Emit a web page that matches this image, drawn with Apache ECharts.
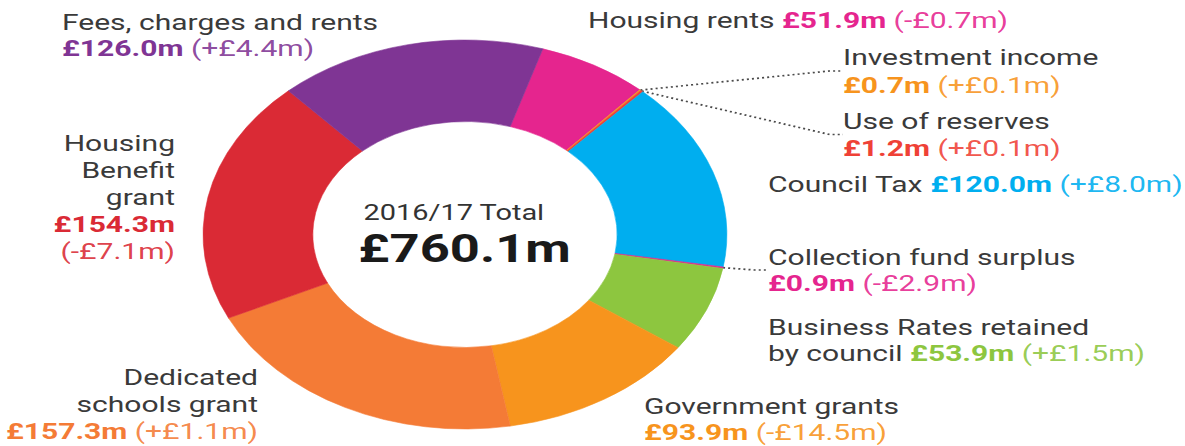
<!DOCTYPE html>
<html>
<head>
<meta charset="utf-8">
<script src="https://cdn.jsdelivr.net/npm/echarts@6/dist/echarts.min.js"></script>
<style>
html,body{margin:0;padding:0;background:#fff;overflow:hidden;width:1185px;height:446px;}
#wrap{width:880px;height:446px;transform:scaleX(1.346591);transform-origin:0 0;}
#chart{width:880px;height:446px;}
</style>
</head>
<body>
<div id="wrap"><div id="chart"></div></div>
<script>
// ---- data ----
const categories = ['Housing rents', 'Investment income', 'Use of reserves', 'Council Tax',
  'Collection fund surplus', 'Business Rates retained\nby council', 'Government grants',
  'Dedicated\nschools grant', 'Housing\nBenefit\ngrant', 'Fees, charges and rents'];
const values = [51.9, 0.7, 1.2, 120.0, 0.9, 53.9, 93.9, 157.3, 154.3, 126.0];
const changes = [-0.7, 0.1, 0.1, 8.0, -2.9, 1.5, -14.5, 1.1, -7.1, 4.4];
const totalTitle = '2016/17 Total';

// ---- styles / layout ----
const colors = ['#E5258E', '#F7941D', '#EF4136', '#00AEEF', '#E5258E', '#8DC63F', '#F7941D', '#F47B36', '#DA2A35', '#7F3594'];
const nameSep = [' ', '\n', '\n', ' ', '\n', ' ', '\n', '\n', '\n', '\n'];
const changeSep = [' ', ' ', ' ', ' ', ' ', ' ', ' ', ' ', '\n', ' '];
const leader = [false, true, true, false, true, false, false, false, false, false];
const lineH = [27, 28, 27, 27, 26, 26, 26, 27, 27, 26];
const S = 1185 / 880; // horizontal stretch of the reference picture
// label anchor in reference pixels: [x, top, align]
const labelPos = [
  [588, 6.5, 'left'], [843, 43, 'left'], [843, 107.5, 'left'], [768, 170.5, 'left'],
  [768, 244, 'left'], [768, 314, 'left'], [644, 393, 'left'],
  [258, 363.5, 'right'], [175, 129.5, 'right'], [62, 9, 'left']
];
const FONT = 'Roboto, "Noto Sans", sans-serif';
const FS = 22.3;

const total = Math.round(values.reduce((a, b) => a + b, 0) * 10) / 10;

function fmtChange(v) {
  return '(' + (v < 0 ? '-' : '+') + '£' + Math.abs(v).toFixed(1) + 'm)';
}

const data = categories.map((c, i) => {
  const lh = lineH[i];
  const item = {
    name: c,
    value: values[i],
    itemStyle: { color: colors[i], borderColor: colors[i], borderWidth: 0.5 },
    label: {
      lineHeight: lh,
      rich: {
        n: { color: '#3a3a3a', fontSize: FS, lineHeight: lh, fontFamily: FONT },
        v: { color: colors[i], fontSize: FS, lineHeight: lh, fontWeight: 'bold', fontFamily: FONT },
        c: { color: colors[i], fontSize: FS, lineHeight: lh, fontFamily: FONT, opacity: 0.9 }
      }
    }
  };
  if (leader[i]) {
    item.labelLine = { show: true, length: 10, length2: 10, smooth: false,
      lineStyle: { color: '#4a4a4a', width: 1.7, type: [1.5, 2.3] } };
  }
  return item;
});

const chart = echarts.init(document.getElementById('chart'), null, { renderer: 'svg' });
chart.setOption({
  animation: false,
  backgroundColor: '#fff',
  graphic: [
    { type: 'text', x: 337, y: 212,
      style: { text: totalTitle, fontSize: 21.5, fontFamily: FONT, fill: '#333', align: 'center', verticalAlign: 'middle' } },
    { type: 'text', x: 345, y: 249,
      style: { text: '£' + total.toFixed(1) + 'm', fontSize: 39, fontWeight: 'bold', fontFamily: FONT, fill: '#1a1a1a', align: 'center', verticalAlign: 'middle' } }
  ],
  series: [{
    type: 'pie',
    center: [345.3, 234.5],
    radius: [113, 194.5],
    startAngle: 72.7,
    clockwise: true,
    avoidLabelOverlap: false,
    silent: true,
    label: {
      show: true,
      position: 'outside',
      fontFamily: FONT,
      fontSize: FS,
      color: '#3a3a3a',
      formatter: function (p) {
        const i = p.dataIndex;
        return '{n|' + categories[i] + '}' + nameSep[i] +
          '{v|£' + values[i].toFixed(1) + 'm}' + changeSep[i] +
          '{c|' + fmtChange(changes[i]) + '}';
      }
    },
    labelLine: { show: false },
    labelLayout: function (params) {
      const p = labelPos[params.dataIndex];
      return { x: p[0] / S, y: p[1], align: p[2], verticalAlign: 'top' };
    },
    data: data
  }]
});
</script>
</body>
</html>
